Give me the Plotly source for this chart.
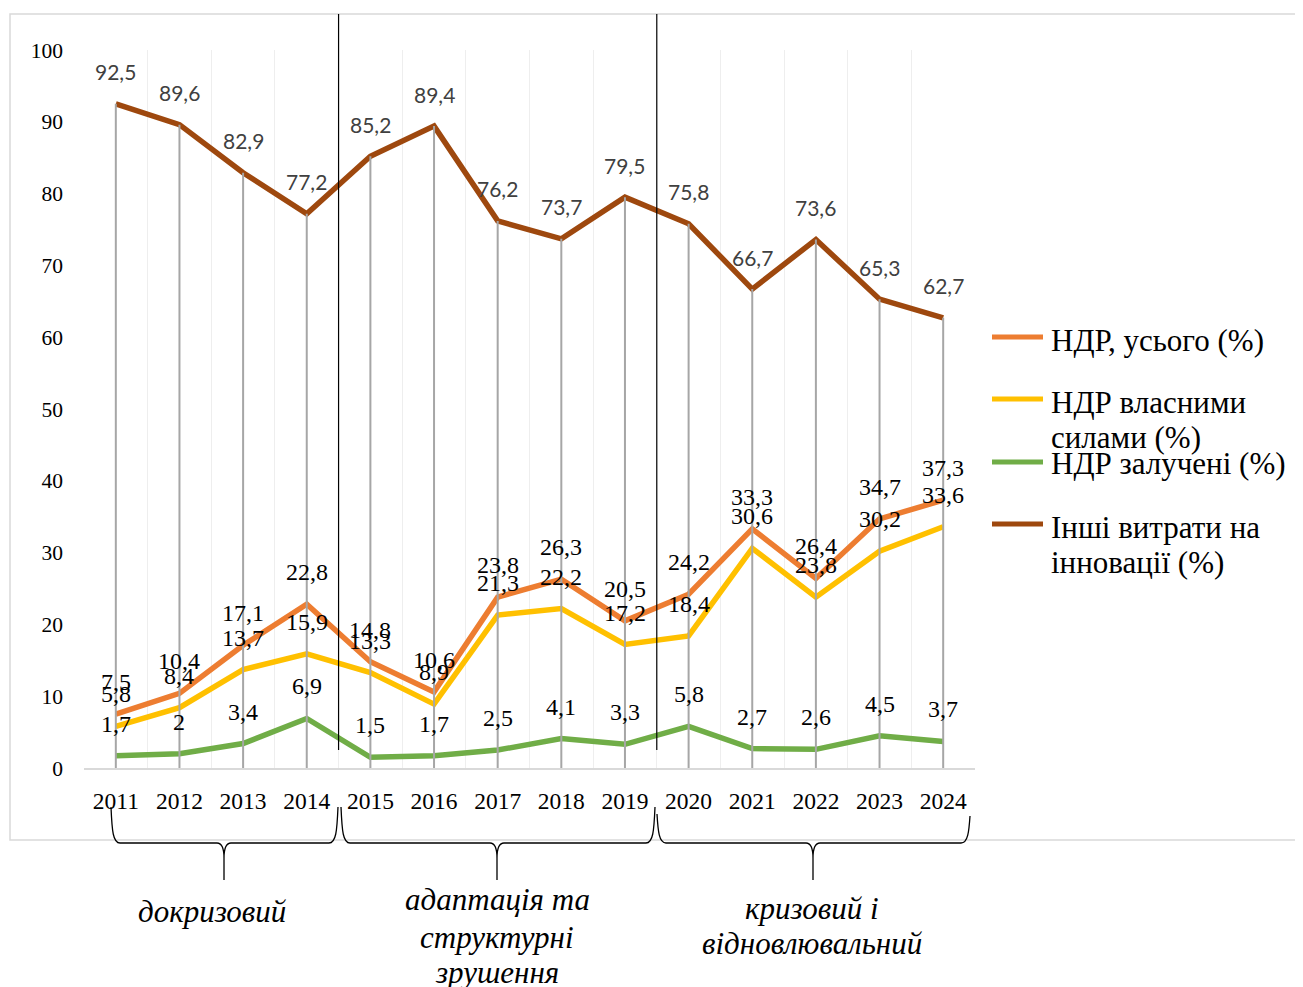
import plotly.graph_objects as go

years = ["2011", "2012", "2013", "2014", "2015", "2016", "2017",
         "2018", "2019", "2020", "2021", "2022", "2023", "2024"]
ndr_total = [7.5, 10.4, 17.1, 22.8, 14.8, 10.6, 23.8, 26.3, 20.5, 24.2, 33.3, 26.4, 34.7, 37.3]
ndr_own = [5.8, 8.4, 13.7, 15.9, 13.3, 8.9, 21.3, 22.2, 17.2, 18.4, 30.6, 23.8, 30.2, 33.6]
ndr_ext = [1.7, 2, 3.4, 6.9, 1.5, 1.7, 2.5, 4.1, 3.3, 5.8, 2.7, 2.6, 4.5, 3.7]
other = [92.5, 89.6, 82.9, 77.2, 85.2, 89.4, 76.2, 73.7, 79.5, 75.8, 66.7, 73.6, 65.3, 62.7]

series_names = [["НДР, усього (%)"], ["НДР власними", "силами (%)"], ["НДР залучені (%)"],
                ["Інші витрати на", "інновації (%)"]]
periods = [["докризовий"], ["адаптація та", "структурні", "зрушення"],
           ["кризовий і", "відновлювальний"]]
period_bounds = [(0, 3), (4, 8), (9, 13)]

colors = ["#ED7D31", "#FFC000", "#70AD47", "#9E480E"]
SERIF = "Liberation Serif, Times New Roman, serif"
SANS = "Lato, Carlito, Calibri, sans-serif"

OFF = 8  # page body margin
W, H = 1303 - OFF, 987 - OFF
L, R, T, B = 84, 975, 50, 768  # target page pixels of plot area


def px(x):
    return (x - L) / (R - L)


def py(y):
    return (B - y) / (B - T)


n = len(years)
xs = list(range(n))
fig = go.Figure()

all_series = [ndr_total, ndr_own, ndr_ext, other]
for vals, col, name in zip(all_series, colors, series_names):
    fig.add_trace(go.Scatter(x=xs, y=vals, mode="lines", name=" ".join(name),
                             line=dict(color=col, width=5.5), showlegend=False,
                             hoverinfo="y"))

# drop lines from the highest series down to the axis
dx, dy = [], []
for i, v in enumerate(other):
    dx += [i, i, None]
    dy += [0, v, None]
fig.add_trace(go.Scatter(x=dx, y=dy, mode="lines", line=dict(color="#A6A6A6", width=2),
                         showlegend=False, hoverinfo="skip"))


def fmt(v):
    return str(v).replace(".", ",")


annotations = []
for k, vals in enumerate(all_series):
    for i, v in enumerate(vals):
        if k == 3:
            font = dict(family=SANS, size=21, color="#404040")
        else:
            font = dict(family=SERIF, size=24, color="#000000")
        annotations.append(dict(x=i, y=v, xref="x", yref="y", text=fmt(v), showarrow=False,
                                yshift=32, font=font, xanchor="center", yanchor="middle"))

# legend (manual)
leg_line_y = [337, 399, 462, 524]
leg_text_y = [[340], [402, 437], [463], [527, 562]]
shapes = []
for col, name, ly, tys in zip(colors, series_names, leg_line_y, leg_text_y):
    shapes.append(dict(type="line", xref="paper", yref="paper", x0=px(992), x1=px(1043),
                       y0=py(ly), y1=py(ly), line=dict(color=col, width=5)))
    for line_txt, ty in zip(name, tys):
        annotations.append(dict(xref="paper", yref="paper", x=px(1049), y=py(ty), text=line_txt,
                                showarrow=False, xanchor="left", yanchor="middle", align="left",
                                font=dict(family=SERIF, size=31, color="#000000")))

# chart border
shapes.append(dict(type="rect", xref="paper", yref="paper", x0=px(10), x1=px(1320),
                   y0=py(840), y1=py(14), line=dict(color="#D9D9D9", width=1.5),
                   layer="below"))

# period separators (between categories)
for a, b in period_bounds[:-1]:
    xsep = (b + 1) / n
    shapes.append(dict(type="line", xref="paper", yref="paper", x0=xsep, x1=xsep,
                       y0=py(750), y1=py(14), line=dict(color="#000000", width=1.2)))


def brace(xa, xb, xm, ya, yb, yh=843, ybot=880):
    p = lambda x, y: f"{px(x):.5f},{py(y):.5f}"
    return ("M " + p(xa, ya) + " C " + p(xa + 1, yh - 12) + " " + p(xa + 2, yh) + " " + p(xa + 9, yh)
            + " L " + p(xm - 7, yh) + " C " + p(xm - 2, yh) + " " + p(xm, yh + 5) + " " + p(xm, yh + 15)
            + " L " + p(xm, ybot)
            + " M " + p(xm, yh + 15) + " C " + p(xm, yh + 5) + " " + p(xm + 2, yh) + " " + p(xm + 7, yh)
            + " L " + p(xb - 9, yh) + " C " + p(xb - 2, yh) + " " + p(xb - 1, yh - 12) + " " + p(xb, yb))


brace_px = [(111, 338, 224, 807, 807), (341, 655, 497, 807, 807), (657, 970, 813, 814, 816)]
for xa, xb, xm, ya, yb in brace_px:
    shapes.append(dict(type="path", xref="paper", yref="paper", path=brace(xa, xb, xm, ya, yb),
                       line=dict(color="#000000", width=1.3)))

period_pos = [(212, [911]), (497, [900, 937, 972]), (812, [908, 943])]
for lines, (x, ys) in zip(periods, period_pos):
    for txt, y in zip(lines, ys):
        annotations.append(dict(xref="paper", yref="paper", x=px(x), y=py(y), text="<i>" + txt + "</i>",
                                showarrow=False, xanchor="center", yanchor="middle", align="center",
                                font=dict(family=SERIF, size=31, color="#000000")))

fig.update_layout(
    width=W, height=H, autosize=False,
    margin=dict(l=L - OFF, r=W - (R - OFF), t=T - OFF, b=H - (B - OFF), pad=0),
    paper_bgcolor="white", plot_bgcolor="white",
    showlegend=False,
    shapes=shapes, annotations=annotations,
    xaxis=dict(range=[-0.5, n - 0.5], tickvals=xs, ticktext=years, showgrid=False,
               zeroline=False, showline=True, linecolor="#D9D9D9", linewidth=1.5,
               ticks="", ticklabelstandoff=11,
               tickfont=dict(family=SERIF, size=23.5, color="#000000"),
               minor=dict(tickvals=[i - 0.5 for i in range(n + 1)], showgrid=True,
                          gridcolor="#EEEEEE", gridwidth=1, ticks="")),
    yaxis=dict(range=[0, 100], tickvals=list(range(0, 101, 10)), showgrid=False,
               zeroline=False, showline=False, ticks="", ticklabelstandoff=20,
               tickfont=dict(family=SERIF, size=21.5, color="#000000")),
)

fig.write_html("out.html")
